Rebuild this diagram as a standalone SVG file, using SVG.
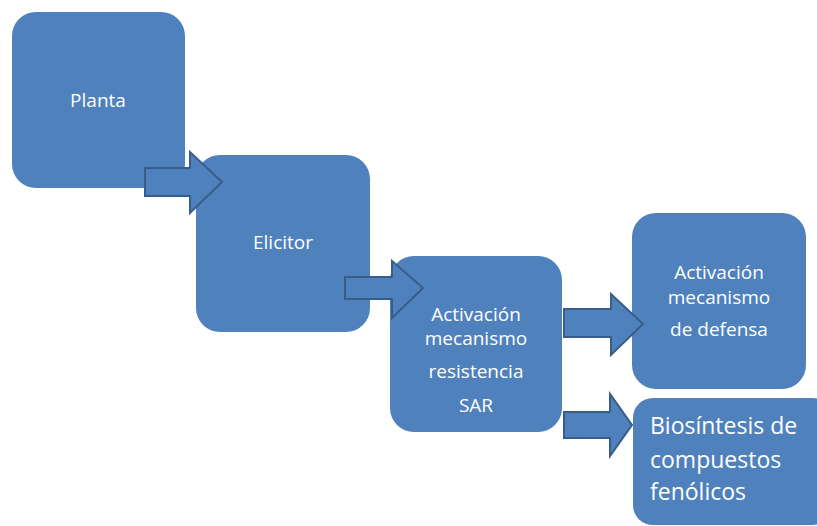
<svg xmlns="http://www.w3.org/2000/svg" width="817" height="526" viewBox="0 0 817 526">
<style>
.box{fill:#4F81BD;}
.arr{fill:#4F81BD;stroke:#385D8A;stroke-width:2;stroke-linejoin:miter;}
text{fill:#FFFFFF;font-family:"Open Sans","Liberation Sans",sans-serif;}
.m{font-size:19px;text-anchor:middle;}
.b{font-size:23px;}
</style>
<rect width="817" height="526" fill="#FFFFFF"/>
<g id="planta"><rect class="box" x="12" y="12" width="173" height="176" rx="24"/><text class="m" x="98" y="107">Planta</text></g>
<g id="elicitor"><rect class="box" x="196" y="155" width="174" height="177" rx="24"/><text class="m" x="283" y="249">Elicitor</text></g>
<g id="sar"><rect class="box" x="390" y="256" width="172" height="176" rx="24"/>
<text class="m" x="476" y="321">Activación</text><text class="m" x="476" y="345">mecanismo</text><text class="m" x="476" y="378">resistencia</text><text class="m" x="476" y="412">SAR</text></g>
<g id="defensa"><rect class="box" x="632" y="213" width="174" height="176" rx="24"/>
<text class="m" x="719" y="279">Activación</text><text class="m" x="719" y="304">mecanismo</text><text class="m" x="719" y="336">de defensa</text></g>
<g id="biosintesis"><rect class="box" x="633" y="398" width="200" height="127" rx="20"/>
<text class="b" x="650" y="434">Biosíntesis de</text><text class="b" x="650" y="468">compuestos</text><text class="b" x="650" y="500">fenólicos</text></g>
<g id="connectors">
<polygon class="arr" points="145,168 190,168 190,152 222,182 190,213 190,196 145,196"/>
<polygon class="arr" points="345,277 392,277 392,261 423,288 392,318 392,299 345,299"/>
<polygon class="arr" points="564,309 611,309 611,294 643,324 611,355 611,337 564,337"/>
<polygon class="arr" points="564,412 610,412 610,394 632,425 610,456 610,438 564,438"/>
</g>
</svg>
